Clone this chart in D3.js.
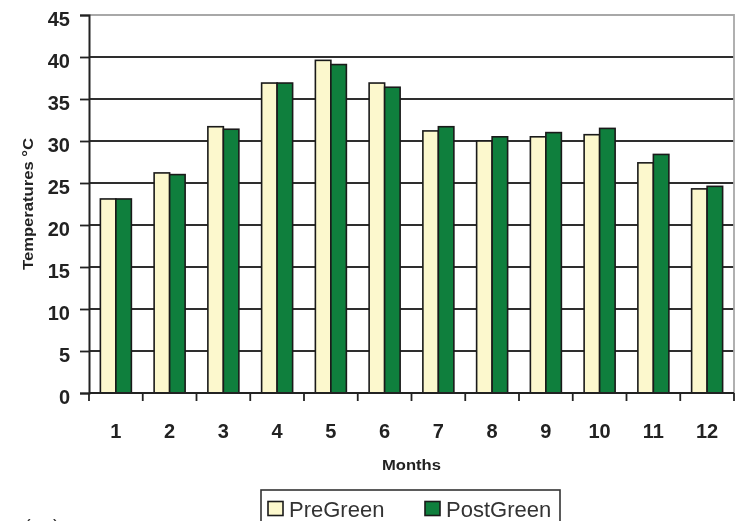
<!DOCTYPE html>
<html>
<head>
<meta charset="utf-8">
<script src="https://cdn.jsdelivr.net/npm/d3@7"></script>
<style>
  html, body { margin: 0; padding: 0; background: #fff; }
  svg { display: block; filter: blur(0.35px); }
  text { font-family: "Liberation Sans", Arial, sans-serif; }
</style>
</head>
<body>
<svg id="chart" width="735" height="521"></svg>
<script>
// Monthly temperatures before and after greening
const months = ["1", "2", "3", "4", "5", "6", "7", "8", "9", "10", "11", "12"];
const seriesNames = ["PreGreen", "PostGreen"];
const preGreen  = [23.1, 26.2, 31.7, 36.9, 39.6, 36.9, 31.2, 30.0, 30.5, 30.75, 27.4, 24.3];
const postGreen = [23.1, 26.0, 31.4, 36.9, 39.1, 36.4, 31.7, 30.5, 31.0, 31.5, 28.4, 24.6];
const yTicks = [0, 5, 10, 15, 20, 25, 30, 35, 40, 45];
const seriesColors = ["#fcf8cd", "#0f7f3d"];

const svg = d3.select("#chart");
const plotLeft = 89, plotRight = 734, plotTop = 15, plotBottom = 393;

const x0 = d3.scaleBand().domain(months).range([plotLeft, plotRight]).padding(0);
const x1 = d3.scaleBand().domain(seriesNames).range([0, x0.bandwidth()])
  .paddingInner(0).paddingOuter(0.734);
const y = d3.scaleLinear().domain([0, 45]).range([plotBottom, plotTop]);
const color = d3.scaleOrdinal().domain(seriesNames).range(seriesColors);

const rows = months.map((m, i) => ({ month: m, values: [
  { key: "PreGreen", value: preGreen[i] },
  { key: "PostGreen", value: postGreen[i] }
]}));

// horizontal gridlines
svg.append("g").selectAll("line")
  .data(yTicks.filter(t => t > 0 && t < 45))
  .join("line")
  .attr("x1", plotLeft).attr("x2", plotRight)
  .attr("y1", d => y(d)).attr("y2", d => y(d))
  .attr("stroke", "#2e2e2e").attr("stroke-width", 2);

// plot area border (top and right)
svg.append("path")
  .attr("d", `M${plotLeft},${y(45)}H${plotRight}V${plotBottom}`)
  .attr("fill", "none").attr("stroke", "#a8a8a8").attr("stroke-width", 1.8);

// bars
svg.append("g").selectAll("g")
  .data(rows)
  .join("g")
  .attr("transform", d => `translate(${x0(d.month)},0)`)
  .selectAll("rect")
  .data(d => d.values)
  .join("rect")
  .attr("x", d => x1(d.key))
  .attr("y", d => y(d.value))
  .attr("width", x1.bandwidth())
  .attr("height", d => y(0) - y(d.value))
  .attr("fill", d => color(d.key))
  .attr("stroke", "#1a1a1a").attr("stroke-width", 1.6);

// y axis
const yAxis = svg.append("g")
  .attr("transform", `translate(${plotLeft},0)`)
  .call(d3.axisLeft(y).tickValues(yTicks).tickSize(9).tickPadding(10));
yAxis.select(".domain").attr("stroke", "#222").attr("stroke-width", 2);
yAxis.selectAll(".tick line").attr("stroke", "#222").attr("stroke-width", 1.8);
yAxis.selectAll(".tick text")
  .attr("dy", "0.52em")
  .style("font-size", "20px").style("font-weight", "bold").attr("fill", "#222");

// x axis line and category boundary ticks
svg.append("line")
  .attr("x1", plotLeft).attr("x2", plotRight)
  .attr("y1", plotBottom).attr("y2", plotBottom)
  .attr("stroke", "#222").attr("stroke-width", 2);
const boundaries = months.map(m => x0(m)).concat([plotRight]);
svg.append("g").selectAll("line")
  .data(boundaries)
  .join("line")
  .attr("x1", d => d).attr("x2", d => d)
  .attr("y1", plotBottom).attr("y2", plotBottom + 8)
  .attr("stroke", "#222").attr("stroke-width", 1.8);

// x axis labels
const xAxis = svg.append("g")
  .attr("transform", `translate(0,${plotBottom})`)
  .call(d3.axisBottom(x0).tickSize(0).tickPadding(45));
xAxis.select(".domain").remove();
xAxis.selectAll(".tick text")
  .attr("dy", "0")
  .style("font-size", "20px").style("font-weight", "bold").attr("fill", "#222");

// axis titles
svg.append("text")
  .attr("x", (plotLeft + plotRight) / 2).attr("y", 470)
  .attr("text-anchor", "middle")
  .style("font-size", "15px").style("font-weight", "bold").attr("fill", "#222")
  .attr("textLength", 59).attr("lengthAdjust", "spacingAndGlyphs")
  .text("Months");

svg.append("text")
  .attr("transform", `translate(33,${(plotTop + plotBottom) / 2}) rotate(-90)`)
  .attr("text-anchor", "middle")
  .style("font-size", "14px").style("font-weight", "bold").attr("fill", "#222")
  .attr("textLength", 132).attr("lengthAdjust", "spacingAndGlyphs")
  .text("Temperatures °C");

// legend
const legend = svg.append("g");
legend.append("rect")
  .attr("x", 261).attr("y", 490).attr("width", 299).attr("height", 45)
  .attr("fill", "#fff").attr("stroke", "#333").attr("stroke-width", 1.6);
const legendX = [268, 425];
const items = legend.selectAll("g.item")
  .data(seriesNames)
  .join("g").attr("class", "item")
  .attr("transform", (d, i) => `translate(${legendX[i]},0)`);
items.append("rect")
  .attr("x", 0).attr("y", 501.5).attr("width", 15).attr("height", 14)
  .attr("fill", d => color(d)).attr("stroke", "#1a1a1a").attr("stroke-width", 1.6);
items.append("text")
  .attr("x", 21).attr("y", 517)
  .style("font-size", "22px").attr("fill", "#333")
  .text(d => d);

// panel label (sits below the visible area, only its top shows)
svg.append("text")
  .attr("x", 24).attr("y", 534)
  .style("font-size", "20px").attr("fill", "#333")
  .text("( a )");
</script>
</body>
</html>
